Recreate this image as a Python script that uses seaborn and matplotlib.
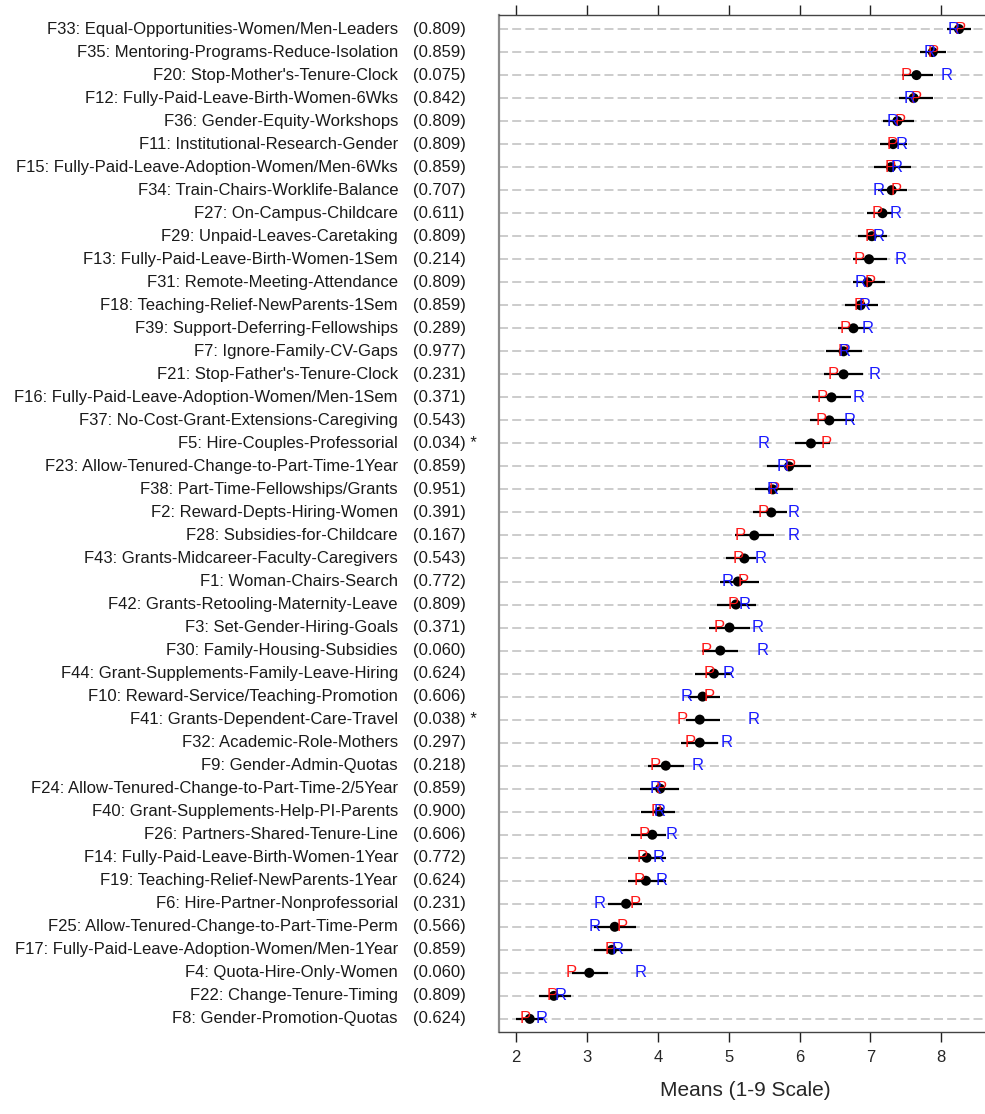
import numpy as np
import pandas as pd
import matplotlib
matplotlib.use("Agg")
import matplotlib.pyplot as plt
import matplotlib.transforms as mtransforms
import seaborn as sns

# Policy items, top to bottom
items = [
    "F33: Equal-Opportunities-Women/Men-Leaders",
    "F35: Mentoring-Programs-Reduce-Isolation",
    "F20: Stop-Mother's-Tenure-Clock",
    "F12: Fully-Paid-Leave-Birth-Women-6Wks",
    "F36: Gender-Equity-Workshops",
    "F11: Institutional-Research-Gender",
    "F15: Fully-Paid-Leave-Adoption-Women/Men-6Wks",
    "F34: Train-Chairs-Worklife-Balance",
    "F27: On-Campus-Childcare",
    "F29: Unpaid-Leaves-Caretaking",
    "F13: Fully-Paid-Leave-Birth-Women-1Sem",
    "F31: Remote-Meeting-Attendance",
    "F18: Teaching-Relief-NewParents-1Sem",
    "F39: Support-Deferring-Fellowships",
    "F7: Ignore-Family-CV-Gaps",
    "F21: Stop-Father's-Tenure-Clock",
    "F16: Fully-Paid-Leave-Adoption-Women/Men-1Sem",
    "F37: No-Cost-Grant-Extensions-Caregiving",
    "F5: Hire-Couples-Professorial",
    "F23: Allow-Tenured-Change-to-Part-Time-1Year",
    "F38: Part-Time-Fellowships/Grants",
    "F2: Reward-Depts-Hiring-Women",
    "F28: Subsidies-for-Childcare",
    "F43: Grants-Midcareer-Faculty-Caregivers",
    "F1: Woman-Chairs-Search",
    "F42: Grants-Retooling-Maternity-Leave",
    "F3: Set-Gender-Hiring-Goals",
    "F30: Family-Housing-Subsidies",
    "F44: Grant-Supplements-Family-Leave-Hiring",
    "F10: Reward-Service/Teaching-Promotion",
    "F41: Grants-Dependent-Care-Travel",
    "F32: Academic-Role-Mothers",
    "F9: Gender-Admin-Quotas",
    "F24: Allow-Tenured-Change-to-Part-Time-2/5Year",
    "F40: Grant-Supplements-Help-PI-Parents",
    "F26: Partners-Shared-Tenure-Line",
    "F14: Fully-Paid-Leave-Birth-Women-1Year",
    "F19: Teaching-Relief-NewParents-1Year",
    "F6: Hire-Partner-Nonprofessorial",
    "F25: Allow-Tenured-Change-to-Part-Time-Perm",
    "F17: Fully-Paid-Leave-Adoption-Women/Men-1Year",
    "F4: Quota-Hire-Only-Women",
    "F22: Change-Tenure-Timing",
    "F8: Gender-Promotion-Quotas",
]

# p-values of the P vs R difference
p_values = [
    "0.809", "0.859", "0.075", "0.842", "0.809", "0.809", "0.859", "0.707",
    "0.611", "0.809", "0.214", "0.809", "0.859", "0.289", "0.977", "0.231",
    "0.371", "0.543", "0.034", "0.859", "0.951", "0.391", "0.167", "0.543",
    "0.772", "0.809", "0.371", "0.060", "0.624", "0.606", "0.038", "0.297",
    "0.218", "0.859", "0.900", "0.606", "0.772", "0.624", "0.231", "0.566",
    "0.859", "0.060", "0.809", "0.624",
]

# Overall means with interval bounds
means = [
    8.25, 7.88, 7.65, 7.61, 7.38, 7.32, 7.29, 7.30, 7.17, 7.02, 6.98, 6.96,
    6.86, 6.76, 6.62, 6.62, 6.45, 6.42, 6.16, 5.85, 5.62, 5.60, 5.36, 5.22,
    5.13, 5.10, 5.01, 4.88, 4.79, 4.63, 4.59, 4.59, 4.11, 4.03, 4.02, 3.92,
    3.84, 3.83, 3.55, 3.39, 3.35, 3.03, 2.53, 2.19,
]
lower = [
    8.08, 7.70, 7.44, 7.41, 7.18, 7.13, 7.05, 7.11, 6.95, 6.82, 6.76, 6.75,
    6.64, 6.54, 6.37, 6.35, 6.18, 6.15, 5.93, 5.54, 5.37, 5.34, 5.09, 4.96,
    4.88, 4.84, 4.72, 4.62, 4.53, 4.43, 4.40, 4.33, 3.86, 3.75, 3.76, 3.62,
    3.58, 3.57, 3.30, 3.09, 3.09, 2.78, 2.32, 2.00,
]
upper = [
    8.42, 8.07, 7.88, 7.88, 7.61, 7.52, 7.57, 7.51, 7.32, 7.24, 7.23, 7.20,
    7.11, 6.99, 6.88, 6.90, 6.73, 6.77, 6.43, 6.16, 5.91, 5.82, 5.64, 5.39,
    5.42, 5.39, 5.30, 5.13, 5.05, 4.88, 4.88, 4.85, 4.37, 4.30, 4.24, 4.12,
    4.11, 4.11, 3.78, 3.69, 3.64, 3.30, 2.77, 2.38,
]

# Group means: P and R
p_means = [
    8.27, 7.89, 7.50, 7.65, 7.42, 7.30, 7.28, 7.36, 7.10, 6.99, 6.84, 6.99,
    6.84, 6.64, 6.62, 6.47, 6.32, 6.31, 6.38, 5.86, 5.64, 5.48, 5.16, 5.13,
    5.20, 5.06, 4.87, 4.68, 4.72, 4.72, 4.34, 4.45, 3.96, 4.05, 3.98, 3.81,
    3.78, 3.74, 3.68, 3.50, 3.33, 2.78, 2.51, 2.12,
]
r_means = [
    8.18, 7.84, 8.08, 7.55, 7.32, 7.44, 7.37, 7.12, 7.36, 7.12, 7.42, 6.86,
    6.92, 6.96, 6.63, 7.06, 6.83, 6.71, 5.49, 5.76, 5.62, 5.92, 5.91, 5.45,
    4.98, 5.23, 5.41, 5.48, 5.00, 4.40, 5.35, 4.97, 4.56, 3.97, 4.03, 4.19,
    4.01, 4.05, 3.17, 3.10, 3.43, 3.75, 2.63, 2.36,
]

x_ticks = [2, 3, 4, 5, 6, 7, 8]
x_label = "Means (1-9 Scale)"

df = pd.DataFrame({
    "item": items, "p": p_values, "mean": means, "lo": lower, "hi": upper,
    "P": p_means, "R": r_means,
})
df["row"] = np.arange(len(df))
df["star"] = [float(v) < 0.05 for v in df["p"]]

sns.set_style("ticks")
plt.rcParams["font.family"] = ["Liberation Sans", "DejaVu Sans"]

W, H = 985, 1114
fig = plt.figure(figsize=(W / 100, H / 100), dpi=100)
left_px, right_px, top_px, bottom_px = 499, 991, 15, 1032
ax = fig.add_axes([left_px / W, 1 - bottom_px / H,
                   (right_px - left_px) / W, (bottom_px - top_px) / H])

n = len(df)
# dashed guide line for each item
ax.set_yticks(df["row"])
ax.yaxis.grid(True, color="#c8c8c8", linestyle=(0, (5, 2.3)), linewidth=1.3)
ax.set_axisbelow(True)

# interval bars and overall means
ax.hlines(df["row"], df["lo"], df["hi"], color="black", linewidth=1.6, zorder=3)
sns.scatterplot(data=df, x="mean", y="row", color="black", s=52,
                edgecolor="none", linewidth=0, ax=ax, zorder=4, legend=False)

# group letters
for _, r in df.iterrows():
    ax.text(r["P"], r["row"], "P", color="#ff1a1a", fontsize=12,
            ha="center", va="center", zorder=5)
    ax.text(r["R"], r["row"], "R", color="#1a1aff", fontsize=12,
            ha="center", va="center", zorder=6)

ax.set_xlim(2 + (left_px - 516.3) / 70.83, 2 + (right_px - 516.3) / 70.83)
ax.set_ylim(n - 1 + 0.57, -0.61)

ax.set_xticks(x_ticks)
ax.set_xticklabels([str(t) for t in x_ticks])
ax.tick_params(axis="x", which="both", top=True, bottom=True, labeltop=False,
               direction="out", length=7.2, width=1.0, color="#222222",
               labelsize=12, pad=6)
ax.tick_params(axis="y", length=0, labelleft=False)
ax.set_xlabel(x_label, fontsize=15, labelpad=11)
ax.set_ylabel("")

ax.spines["left"].set_color("#8c8c8c")
ax.spines["left"].set_linewidth(1.6)
for s in ("top", "bottom"):
    ax.spines[s].set_color("#444444")
    ax.spines[s].set_linewidth(1.0)
ax.spines["right"].set_visible(False)

# item names and p-values to the left of the panel
trans = mtransforms.blended_transform_factory(fig.transFigure, ax.transData)
for _, r in df.iterrows():
    ax.text(398 / W, r["row"], r["item"], transform=trans, ha="right",
            va="center", fontsize=12, color="#1a1a1a", clip_on=False)
    ptxt = f"({r['p']})" + (" *" if r["star"] else "")
    ax.text(413 / W, r["row"], ptxt, transform=trans, ha="left",
            va="center", fontsize=12, color="#1a1a1a", clip_on=False)

fig.savefig("out.png", dpi=100)
